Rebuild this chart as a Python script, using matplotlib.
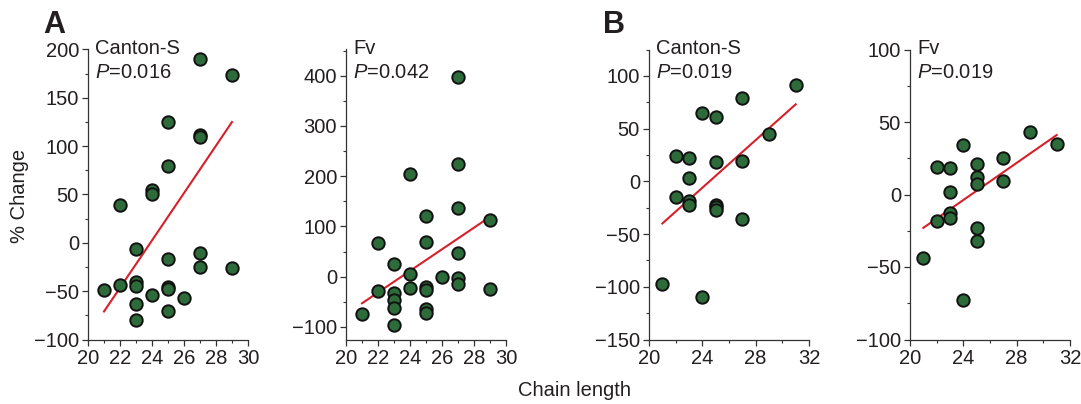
import matplotlib
matplotlib.use("Agg")
import matplotlib.pyplot as plt
from matplotlib.ticker import MultipleLocator

plt.rcParams['font.family'] = ['Liberation Sans', 'DejaVu Sans']
plt.rcParams['mathtext.fontset'] = 'custom'
plt.rcParams['mathtext.it'] = 'Liberation Sans:italic'
plt.rcParams['mathtext.rm'] = 'Liberation Sans'

TEXT = '#231f20'
FS = 14.5

# Panel A, Canton-S
a_cs_x = [27, 29, 25, 27, 27, 25, 24, 24, 22, 23, 27, 25, 27, 29, 21, 22, 23, 23, 24, 25, 25, 26, 23, 25, 23]
a_cs_y = [190, 174, 125, 112, 109, 80, 55, 50, 39, -6, -11, -17, -25, -26, -49, -44, -41, -45, -54, -46, -48, -57, -63, -70, -80]
a_cs_fit_x = [21, 29]
a_cs_fit_y = [-71, 125]

# Panel A, Fv
a_fv_x = [27, 27, 24, 27, 25, 29, 22, 25, 27, 23, 24, 26, 27, 27, 22, 24, 25, 25, 29, 23, 23, 23, 25, 25, 21, 23]
a_fv_y = [397, 224, 204, 137, 121, 112, 67, 69, 47, 25, 6, -1, -2, -15, -28, -23, -20, -27, -24, -32, -47, -62, -65, -72, -75, -97]
a_fv_fit_x = [21, 29]
a_fv_fit_y = [-53, 119]

# Panel B, Canton-S
b_cs_x = [31, 27, 24, 25, 29, 22, 23, 25, 27, 23, 22, 23, 23, 25, 25, 25, 27, 21, 24]
b_cs_y = [91, 79, 65, 61, 45, 24, 22, 18, 19, 3, -15, -19, -22, -22, -24, -27, -36, -97, -110]
b_cs_fit_x = [21, 31]
b_cs_fit_y = [-40, 73]

# Panel B, Fv
b_fv_x = [29, 31, 24, 27, 22, 23, 25, 25, 25, 27, 23, 22, 23, 23, 25, 25, 21, 24]
b_fv_y = [43, 35, 34, 25, 19, 18, 21, 12, 7, 9, 2, -18, -13, -16, -23, -32, -44, -73]
b_fv_fit_x = [21, 31]
b_fv_fit_y = [-23, 41]

panels = [
    dict(x=a_cs_x, y=a_cs_y, fx=a_cs_fit_x, fy=a_cs_fit_y, name='Canton-S', p='0.016',
         xlim=(20, 30), xmaj=2, xmin=1, ylim=(-100, 200), ymaj=50, ymin=25, left=88),
    dict(x=a_fv_x, y=a_fv_y, fx=a_fv_fit_x, fy=a_fv_fit_y, name='Fv', p='0.042',
         xlim=(20, 30), xmaj=2, xmin=1, ylim=(-125, 452), ymaj=100, ymin=50, left=346),
    dict(x=b_cs_x, y=b_cs_y, fx=b_cs_fit_x, fy=b_cs_fit_y, name='Canton-S', p='0.019',
         xlim=(20, 32), xmaj=4, xmin=2, ylim=(-150, 125), ymaj=50, ymin=25, left=649),
    dict(x=b_fv_x, y=b_fv_y, fx=b_fv_fit_x, fy=b_fv_fit_y, name='Fv', p='0.019',
         xlim=(20, 32), xmaj=4, xmin=2, ylim=(-100, 100), ymaj=50, ymin=25, left=910),
]

W, H = 1081, 404
fig = plt.figure(figsize=(W / 100, H / 100), dpi=100)

top_px, bot_px, w_px = 49.5, 339.5, 160
for pd_ in panels:
    ax = fig.add_axes([pd_['left'] / W, 1 - bot_px / H, w_px / W, (bot_px - top_px) / H])
    ax.plot(pd_['fx'], pd_['fy'], color='#d7202a', lw=1.5, zorder=2)
    ax.scatter(pd_['x'], pd_['y'], s=80, facecolor='#2e6b3a', edgecolor='#111111',
               linewidths=1.4, zorder=3, clip_on=False)
    ax.set_xlim(*pd_['xlim'])
    ax.set_ylim(*pd_['ylim'])
    ax.xaxis.set_major_locator(MultipleLocator(pd_['xmaj']))
    ax.xaxis.set_minor_locator(MultipleLocator(pd_['xmin']))
    ax.yaxis.set_major_locator(MultipleLocator(pd_['ymaj']))
    ax.yaxis.set_minor_locator(MultipleLocator(pd_['ymin']))
    for s in ['top', 'right']:
        ax.spines[s].set_visible(False)
    for s in ['left', 'bottom']:
        ax.spines[s].set_linewidth(0.9)
        ax.spines[s].set_color('#333333')
    ax.tick_params(which='major', direction='out', length=4, width=0.9, color='#333333',
                   labelsize=FS, labelcolor=TEXT, pad=2.5)
    ax.tick_params(which='minor', direction='out', length=2.5, width=0.8, color='#333333')
    ax.yaxis.set_major_formatter(plt.FuncFormatter(lambda v, _: f"{int(round(v))}".replace('-', '\u2212')))
    ax.annotate(pd_['name'], xy=(0, 1), xycoords='axes fraction', xytext=(7, -5),
                textcoords='offset pixels', ha='left', va='baseline', fontsize=FS, color=TEXT)
    ax.annotate(r'$P$=' + pd_['p'], xy=(0, 1), xycoords='axes fraction', xytext=(7, -28),
                textcoords='offset pixels', ha='left', va='baseline', fontsize=FS, color=TEXT)

fig.text(43 / W, 1 - 33 / H, 'A', fontsize=22, fontweight='bold', color=TEXT, ha='left', va='baseline')
fig.text(603 / W, 1 - 33 / H, 'B', fontsize=22, fontweight='bold', color=TEXT, ha='left', va='baseline')
fig.text(20 / W, 1 - 196 / H, '% Change', rotation=90, fontsize=FS, color=TEXT, ha='center', va='center')
fig.text(575 / W, 1 - 390 / H, 'Chain length', fontsize=FS, color=TEXT, ha='center', va='center')

fig.savefig('out.png', dpi=100)
